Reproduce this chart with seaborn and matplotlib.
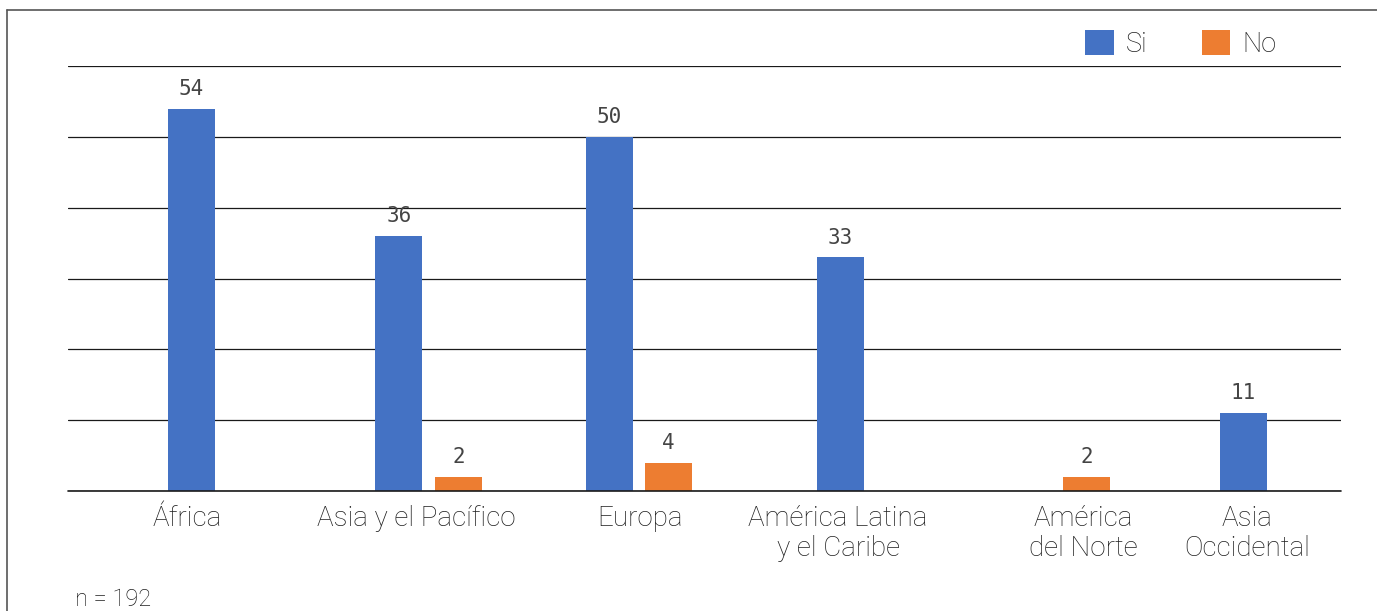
import matplotlib
matplotlib.use('Agg')
import matplotlib.pyplot as plt
from matplotlib.patches import Patch
from matplotlib.lines import Line2D
import numpy as np
import pandas as pd
import seaborn as sns

# datos
regiones = ['África', 'Asia y el Pacífico', 'Europa', 'América Latina\ny el Caribe',
            'América\ndel Norte', 'Asia\nOccidental']
si = [54, 36, 50, 33, 0, 11]
no = [0, 2, 4, 0, 2, 0]
series = ['Si', 'No']
nota = 'n = 192'

# layout: the groups are not evenly spaced in the original
centros = [0.08, 1.2, 2.19, 3.14, 4.3, 5.04]
pos_etiquetas = [0.06, 1.14, 2.195, 3.13, 4.286, 5.057]
paso = 0.28
ancho = 0.2215
colores = {'Si': '#4472C4', 'No': '#ED7D31'}
texto = '#1e1e1e'

sns.set_style('white')
plt.rcParams['font.family'] = ['Roboto', 'DejaVu Sans']
plt.rcParams['font.weight'] = 'light'

filas = []
for i, reg in enumerate(regiones):
    vals = {'Si': si[i], 'No': no[i]}
    presentes = [s for s in series if vals[s] > 0]
    for k, s in enumerate(presentes):
        off = (k - (len(presentes) - 1) / 2) * paso
        filas.append({'pos': centros[i] + off, 'valor': vals[s], 'serie': s})
df = pd.DataFrame(filas)

fig = plt.figure(figsize=(13.77, 6.11), dpi=100)
ax = fig.add_axes([68 / 1377, 1 - 491 / 611, (1341 - 68) / 1377, (491 - 66) / 611])

min_paso = np.min(np.diff(np.unique(df['pos'])))
sns.barplot(data=df, x='pos', y='valor', hue='serie', hue_order=series,
            palette=colores, native_scale=True, dodge=False, saturation=1,
            width=ancho / min_paso, linewidth=0, legend=False, ax=ax, zorder=3)

for c in ax.containers:
    ax.bar_label(c, fmt='%d', padding=7, fontsize=15, color='#444444',
                 family='DejaVu Sans Mono', fontweight='normal')

ax.set_xlim(-0.5, 5.5)
ax.set_ylim(0, 60)
ax.set_yticks(range(0, 61, 10))
ax.set_yticklabels([])
ax.yaxis.grid(True, color='#1a1a1a', lw=0.9)
ax.axhline(0, color='#1a1a1a', lw=1.2, clip_on=False, zorder=4)
ax.set_axisbelow(True)
ax.set_xticks(pos_etiquetas)
ax.set_xticklabels(regiones, fontsize=20, color=texto, linespacing=1.15)
ax.tick_params(axis='both', length=0)
ax.tick_params(axis='x', pad=10)
ax.set_xlabel('')
ax.set_ylabel('')
sns.despine(ax=ax, left=True, bottom=True)

handles = [Patch(facecolor=colores[s], edgecolor='none', label=s) for s in series]
fig.legend(handles=handles, loc='center left', bbox_to_anchor=(1061 / 1377, 1 - 44 / 611),
           ncol=2, frameon=False, fontsize=19.5, handlelength=1.05, handleheight=1.05,
           handletextpad=0.45, columnspacing=2.0, labelcolor=texto)

fig.text(75 / 1377, 1 - 606 / 611, nota, fontsize=17, color=texto, va='baseline')

# marco exterior (solo se ven el borde superior e izquierdo)
fig.add_artist(Line2D([7 / 1377, 7 / 1377], [0, 1 - 10 / 611], transform=fig.transFigure,
                      color='#555555', lw=1.2))
fig.add_artist(Line2D([7 / 1377, 1], [1 - 10 / 611, 1 - 10 / 611], transform=fig.transFigure,
                      color='#555555', lw=1.2))

fig.savefig('out.png', dpi=100)
